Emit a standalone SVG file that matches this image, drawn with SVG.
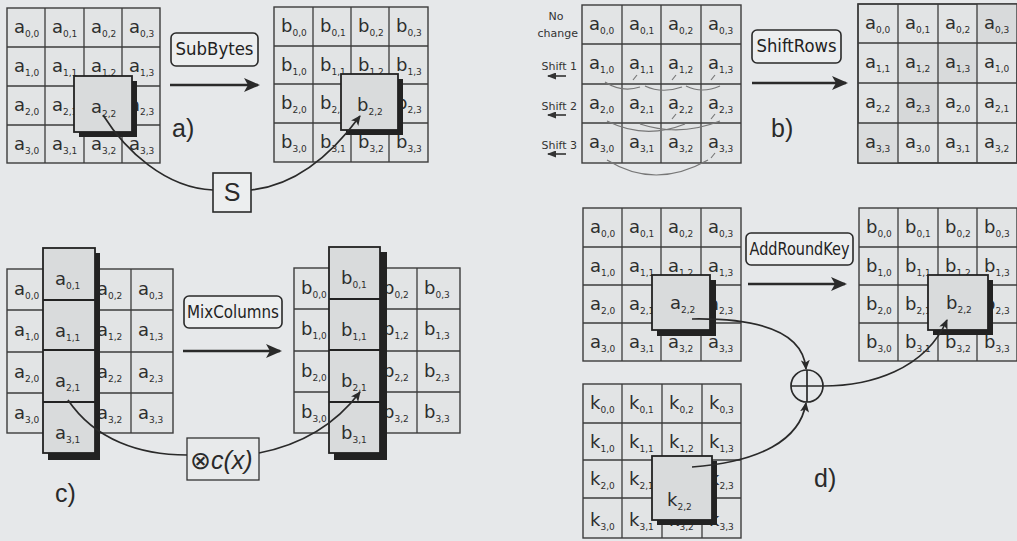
<svg xmlns="http://www.w3.org/2000/svg" width="1017" height="541" viewBox="0 0 1017 541">
<defs>
<style>
.bg{fill:#e6e8ea}
.grid{fill:#e2e4e5;stroke:#3c3c3c;stroke-width:1.4}
.gl{stroke:#3c3c3c;stroke-width:1.3;fill:none}
.hl{fill:#d9dbdc;stroke:#222;stroke-width:1.8}
.sh{fill:#222}
.c{font-family:"DejaVu Sans",Verdana,sans-serif;font-size:18px;fill:#2e2e2e}
.s{font-size:9px}
.lbl{font-family:"DejaVu Sans",Verdana,sans-serif;font-size:17px;fill:#222}
.box{fill:#eceeef;stroke:#2a2a2a;stroke-width:1.6}
.pl{font-family:"Liberation Sans",Arial,sans-serif;font-size:25px;fill:#2a2a2a}
.sm{font-family:"DejaVu Sans",Verdana,sans-serif;font-size:11px;fill:#333}
.ar{stroke:#2a2a2a;stroke-width:2.6;fill:none}
.cv{stroke:#2a2a2a;stroke-width:1.7;fill:none}
.fa{stroke:#777;stroke-width:1.2;fill:none}
.sa{stroke:#333;stroke-width:1.6;fill:none}
</style>
<marker id="big" markerWidth="16" markerHeight="14" refX="14" refY="7" orient="auto" markerUnits="userSpaceOnUse"><path d="M0,0 L16,7 L0,14 L4,7 z" fill="#2a2a2a"/></marker>
<marker id="sml" markerWidth="10" markerHeight="9" refX="9" refY="4.5" orient="auto" markerUnits="userSpaceOnUse"><path d="M0,0 L10,4.5 L0,9 L2.5,4.5 z" fill="#2a2a2a"/></marker>
<marker id="tiny" markerWidth="9" markerHeight="7" refX="8" refY="3.5" orient="auto" markerUnits="userSpaceOnUse"><path d="M0,0 L9,3.5 L0,7 z" fill="#333"/></marker>
</defs>
<rect class="bg" x="0" y="0" width="1017" height="541"/>

<!-- Panel a: SubBytes -->
<g id="a-state-in">
<rect class="grid" x="7" y="8" width="153" height="155"/>
<path class="gl" d="M45,8V163M84,8V163M122,8V163M7,47H160M7,86H160M7,125H160"/>
<text class="c" x="14" y="33">a<tspan class="s" dy="4">0,0</tspan></text>
<text class="c" x="52" y="33">a<tspan class="s" dy="4">0,1</tspan></text>
<text class="c" x="91" y="33">a<tspan class="s" dy="4">0,2</tspan></text>
<text class="c" x="129" y="33">a<tspan class="s" dy="4">0,3</tspan></text>
<text class="c" x="14" y="72">a<tspan class="s" dy="4">1,0</tspan></text>
<text class="c" x="52" y="72">a<tspan class="s" dy="4">1,1</tspan></text>
<text class="c" x="91" y="72">a<tspan class="s" dy="4">1,2</tspan></text>
<text class="c" x="129" y="72">a<tspan class="s" dy="4">1,3</tspan></text>
<text class="c" x="14" y="111">a<tspan class="s" dy="4">2,0</tspan></text>
<text class="c" x="52" y="111">a<tspan class="s" dy="4">2,1</tspan></text>
<text class="c" x="129" y="111">a<tspan class="s" dy="4">2,3</tspan></text>
<text class="c" x="14" y="150">a<tspan class="s" dy="4">3,0</tspan></text>
<text class="c" x="52" y="150">a<tspan class="s" dy="4">3,1</tspan></text>
<text class="c" x="91" y="150">a<tspan class="s" dy="4">3,2</tspan></text>
<text class="c" x="129" y="150">a<tspan class="s" dy="4">3,3</tspan></text>
<rect class="sh" x="79" y="81" width="58" height="56"/>
<rect class="hl" x="74" y="76" width="58" height="56"/>
<text class="c" x="91" y="113">a<tspan class="s" dy="4">2,2</tspan></text>
</g>
<g id="a-state-out">
<rect class="grid" x="274" y="7" width="154" height="155"/>
<path class="gl" d="M313,7V162M351,7V162M389,7V162M274,46H428M274,84H428M274,123H428"/>
<text class="c" x="281" y="32">b<tspan class="s" dy="4">0,0</tspan></text>
<text class="c" x="320" y="32">b<tspan class="s" dy="4">0,1</tspan></text>
<text class="c" x="358" y="32">b<tspan class="s" dy="4">0,2</tspan></text>
<text class="c" x="396" y="32">b<tspan class="s" dy="4">0,3</tspan></text>
<text class="c" x="281" y="71">b<tspan class="s" dy="4">1,0</tspan></text>
<text class="c" x="320" y="71">b<tspan class="s" dy="4">1,1</tspan></text>
<text class="c" x="358" y="71">b<tspan class="s" dy="4">1,2</tspan></text>
<text class="c" x="396" y="71">b<tspan class="s" dy="4">1,3</tspan></text>
<text class="c" x="281" y="109">b<tspan class="s" dy="4">2,0</tspan></text>
<text class="c" x="320" y="109">b<tspan class="s" dy="4">2,1</tspan></text>
<text class="c" x="396" y="109">b<tspan class="s" dy="4">2,3</tspan></text>
<text class="c" x="281" y="148">b<tspan class="s" dy="4">3,0</tspan></text>
<text class="c" x="320" y="148">b<tspan class="s" dy="4">3,1</tspan></text>
<text class="c" x="358" y="148">b<tspan class="s" dy="4">3,2</tspan></text>
<text class="c" x="396" y="148">b<tspan class="s" dy="4">3,3</tspan></text>
<rect class="sh" x="346" y="79" width="57" height="56"/>
<rect class="hl" x="341" y="74" width="57" height="56"/>
<text class="c" x="357" y="111">b<tspan class="s" dy="4">2,2</tspan></text>
</g>
<g id="subbytes-label">
<rect class="box" x="171" y="33" width="87" height="33" rx="5"/>
<text class="lbl" x="214.5" y="55" text-anchor="middle" textLength="78" lengthAdjust="spacingAndGlyphs">SubBytes</text>
</g>
<g id="s-box">
<rect class="box" x="213" y="173" width="38" height="39"/>
<text class="pl" x="232" y="201" text-anchor="middle" font-size="24">S</text>
</g>
<text id="label-a" class="pl" x="172" y="137">a)</text>

<!-- Panel b: ShiftRows -->
<g id="b-state-in">
<rect class="grid" x="582" y="5" width="159" height="158"/>
<path class="gl" d="M622,5V163M661,5V163M701,5V163M582,44H741M582,84H741M582,123H741"/>
<text class="c" x="589" y="30">a<tspan class="s" dy="4">0,0</tspan></text>
<text class="c" x="629" y="30">a<tspan class="s" dy="4">0,1</tspan></text>
<text class="c" x="668" y="30">a<tspan class="s" dy="4">0,2</tspan></text>
<text class="c" x="708" y="30">a<tspan class="s" dy="4">0,3</tspan></text>
<text class="c" x="589" y="69">a<tspan class="s" dy="4">1,0</tspan></text>
<text class="c" x="629" y="69">a<tspan class="s" dy="4">1,1</tspan></text>
<text class="c" x="668" y="69">a<tspan class="s" dy="4">1,2</tspan></text>
<text class="c" x="708" y="69">a<tspan class="s" dy="4">1,3</tspan></text>
<text class="c" x="589" y="109">a<tspan class="s" dy="4">2,0</tspan></text>
<text class="c" x="629" y="109">a<tspan class="s" dy="4">2,1</tspan></text>
<text class="c" x="668" y="109">a<tspan class="s" dy="4">2,2</tspan></text>
<text class="c" x="708" y="109">a<tspan class="s" dy="4">2,3</tspan></text>
<text class="c" x="589" y="148">a<tspan class="s" dy="4">3,0</tspan></text>
<text class="c" x="629" y="148">a<tspan class="s" dy="4">3,1</tspan></text>
<text class="c" x="668" y="148">a<tspan class="s" dy="4">3,2</tspan></text>
<text class="c" x="708" y="148">a<tspan class="s" dy="4">3,3</tspan></text>
</g>
<g id="shift-labels">
<text class="sm" x="556" y="20" text-anchor="middle">No</text>
<text class="sm" x="578" y="37" text-anchor="end">change</text>
<text class="sm" x="577" y="70" text-anchor="end">Shift 1</text>
<text class="sm" x="577" y="110" text-anchor="end">Shift 2</text>
<text class="sm" x="577" y="149" text-anchor="end">Shift 3</text>
<path class="sa" d="M566,76H548" marker-end="url(#tiny)"/>
<path class="sa" d="M566,115H548" marker-end="url(#tiny)"/>
<path class="sa" d="M566,154H548" marker-end="url(#tiny)"/>
</g>
<g id="shift-arcs">
<path class="fa" d="M605,82 Q622,93 640,87 M645,86 Q662,94 682,87 M686,86 Q702,94 720,86"/>
<path class="fa" d="M633,80 L637,75 M672,80 L676,75 M711,80 L715,75"/>
<path class="fa" d="M607,121 Q645,140 685,124 M640,124 Q680,137 720,121"/>
<path class="fa" d="M672,119 L676,114 M711,119 L715,114"/>
<path class="fa" d="M607,160 Q655,190 708,160"/>
<path class="fa" d="M711,158 L715,153"/>
</g>
<g id="b-state-out">
<rect class="grid" x="858" y="4" width="159" height="159"/>
<rect x="977" y="4" width="40" height="39" fill="#d8dadb"/>
<rect x="898" y="43" width="40" height="40" fill="#dcdedf"/>
<rect x="938" y="43" width="39" height="40" fill="#d8dadb"/>
<rect x="898" y="83" width="40" height="40" fill="#d6d8d9"/>
<rect x="858" y="123" width="40" height="40" fill="#dadcdd"/>
<path class="gl" d="M898,4V163M938,4V163M977,4V163M858,43H1017M858,83H1017M858,123H1017"/>
<rect x="858" y="4" width="159" height="159" fill="none" stroke="#3c3c3c" stroke-width="1.4"/>
<text class="c" x="865" y="29">a<tspan class="s" dy="4">0,0</tspan></text>
<text class="c" x="905" y="29">a<tspan class="s" dy="4">0,1</tspan></text>
<text class="c" x="945" y="29">a<tspan class="s" dy="4">0,2</tspan></text>
<text class="c" x="984" y="29">a<tspan class="s" dy="4">0,3</tspan></text>
<text class="c" x="865" y="68">a<tspan class="s" dy="4">1,1</tspan></text>
<text class="c" x="905" y="68">a<tspan class="s" dy="4">1,2</tspan></text>
<text class="c" x="945" y="68">a<tspan class="s" dy="4">1,3</tspan></text>
<text class="c" x="984" y="68">a<tspan class="s" dy="4">1,0</tspan></text>
<text class="c" x="865" y="108">a<tspan class="s" dy="4">2,2</tspan></text>
<text class="c" x="905" y="108">a<tspan class="s" dy="4">2,3</tspan></text>
<text class="c" x="945" y="108">a<tspan class="s" dy="4">2,0</tspan></text>
<text class="c" x="984" y="108">a<tspan class="s" dy="4">2,1</tspan></text>
<text class="c" x="865" y="148">a<tspan class="s" dy="4">3,3</tspan></text>
<text class="c" x="905" y="148">a<tspan class="s" dy="4">3,0</tspan></text>
<text class="c" x="945" y="148">a<tspan class="s" dy="4">3,1</tspan></text>
<text class="c" x="984" y="148">a<tspan class="s" dy="4">3,2</tspan></text>
</g>
<g id="shiftrows-label">
<rect class="box" x="752" y="30" width="89" height="33" rx="5"/>
<text class="lbl" x="796.5" y="52" text-anchor="middle" textLength="80" lengthAdjust="spacingAndGlyphs">ShiftRows</text>
</g>
<text id="label-b" class="pl" x="771" y="137">b)</text>

<!-- Panel c: MixColumns -->
<g id="c-state-in">
<rect class="grid" x="7" y="269" width="166" height="164"/>
<path class="gl" d="M49,269V433M90,269V433M131,269V433M7,310H173M7,352H173M7,393H173"/>
<text class="c" x="14" y="295">a<tspan class="s" dy="4">0,0</tspan></text>
<text class="c" x="97" y="295">a<tspan class="s" dy="4">0,2</tspan></text>
<text class="c" x="138" y="295">a<tspan class="s" dy="4">0,3</tspan></text>
<text class="c" x="14" y="336">a<tspan class="s" dy="4">1,0</tspan></text>
<text class="c" x="97" y="336">a<tspan class="s" dy="4">1,2</tspan></text>
<text class="c" x="138" y="336">a<tspan class="s" dy="4">1,3</tspan></text>
<text class="c" x="14" y="378">a<tspan class="s" dy="4">2,0</tspan></text>
<text class="c" x="97" y="378">a<tspan class="s" dy="4">2,2</tspan></text>
<text class="c" x="138" y="378">a<tspan class="s" dy="4">2,3</tspan></text>
<text class="c" x="14" y="419">a<tspan class="s" dy="4">3,0</tspan></text>
<text class="c" x="97" y="419">a<tspan class="s" dy="4">3,2</tspan></text>
<text class="c" x="138" y="419">a<tspan class="s" dy="4">3,3</tspan></text>
<rect class="sh" x="48" y="253" width="52" height="207"/>
<rect class="hl" x="43" y="248" width="52" height="205"/>
<path d="M43,300H95M43,350H95M43,402H95" stroke="#222" stroke-width="2.2"/>
<text class="c" x="55" y="285">a<tspan class="s" dy="4">0,1</tspan></text>
<text class="c" x="55" y="337">a<tspan class="s" dy="4">1,1</tspan></text>
<text class="c" x="55" y="387">a<tspan class="s" dy="4">2,1</tspan></text>
<text class="c" x="55" y="439">a<tspan class="s" dy="4">3,1</tspan></text>
</g>
<g id="c-state-out">
<rect class="grid" x="294" y="268" width="166" height="165"/>
<path class="gl" d="M335,268V433M376,268V433M417,268V433M294,309H460M294,351H460M294,392H460"/>
<text class="c" x="301" y="294">b<tspan class="s" dy="4">0,0</tspan></text>
<text class="c" x="383" y="294">b<tspan class="s" dy="4">0,2</tspan></text>
<text class="c" x="424" y="294">b<tspan class="s" dy="4">0,3</tspan></text>
<text class="c" x="301" y="335">b<tspan class="s" dy="4">1,0</tspan></text>
<text class="c" x="383" y="335">b<tspan class="s" dy="4">1,2</tspan></text>
<text class="c" x="424" y="335">b<tspan class="s" dy="4">1,3</tspan></text>
<text class="c" x="301" y="377">b<tspan class="s" dy="4">2,0</tspan></text>
<text class="c" x="383" y="377">b<tspan class="s" dy="4">2,2</tspan></text>
<text class="c" x="424" y="377">b<tspan class="s" dy="4">2,3</tspan></text>
<text class="c" x="301" y="418">b<tspan class="s" dy="4">3,0</tspan></text>
<text class="c" x="383" y="418">b<tspan class="s" dy="4">3,2</tspan></text>
<text class="c" x="424" y="418">b<tspan class="s" dy="4">3,3</tspan></text>
<rect class="sh" x="334" y="252" width="53" height="208"/>
<rect class="hl" x="329" y="247" width="51" height="206"/>
<path d="M329,299H380M329,350H380M329,402H380" stroke="#222" stroke-width="2.2"/>
<text class="c" x="341" y="284">b<tspan class="s" dy="4">0,1</tspan></text>
<text class="c" x="341" y="336">b<tspan class="s" dy="4">1,1</tspan></text>
<text class="c" x="341" y="387">b<tspan class="s" dy="4">2,1</tspan></text>
<text class="c" x="341" y="439">b<tspan class="s" dy="4">3,1</tspan></text>
</g>
<g id="mixcolumns-label">
<rect class="box" x="184" y="296" width="98" height="32" rx="5"/>
<text class="lbl" x="233" y="318" text-anchor="middle" textLength="92" lengthAdjust="spacingAndGlyphs">MixColumns</text>
</g>
<g id="cx-box">
<rect x="187" y="438" width="72" height="42" fill="#e8eaeb" stroke="#333" stroke-width="1.3"/>
<text class="pl" x="190" y="469" font-size="23">⊗<tspan font-style="italic">c(x)</tspan></text>
</g>
<text id="label-c" class="pl" x="55" y="502">c)</text>

<!-- Panel d: AddRoundKey -->
<g id="d-state-in">
<rect class="grid" x="583" y="208" width="158" height="153"/>
<path class="gl" d="M622,208V361M661,208V361M701,208V361M583,247H741M583,285H741M583,323H741"/>
<text class="c" x="590" y="233">a<tspan class="s" dy="4">0,0</tspan></text>
<text class="c" x="629" y="233">a<tspan class="s" dy="4">0,1</tspan></text>
<text class="c" x="668" y="233">a<tspan class="s" dy="4">0,2</tspan></text>
<text class="c" x="708" y="233">a<tspan class="s" dy="4">0,3</tspan></text>
<text class="c" x="590" y="272">a<tspan class="s" dy="4">1,0</tspan></text>
<text class="c" x="629" y="272">a<tspan class="s" dy="4">1,1</tspan></text>
<text class="c" x="668" y="272">a<tspan class="s" dy="4">1,2</tspan></text>
<text class="c" x="708" y="272">a<tspan class="s" dy="4">1,3</tspan></text>
<text class="c" x="590" y="310">a<tspan class="s" dy="4">2,0</tspan></text>
<text class="c" x="629" y="310">a<tspan class="s" dy="4">2,1</tspan></text>
<text class="c" x="708" y="310">a<tspan class="s" dy="4">2,3</tspan></text>
<text class="c" x="590" y="348">a<tspan class="s" dy="4">3,0</tspan></text>
<text class="c" x="629" y="348">a<tspan class="s" dy="4">3,1</tspan></text>
<text class="c" x="668" y="348">a<tspan class="s" dy="4">3,2</tspan></text>
<text class="c" x="708" y="348">a<tspan class="s" dy="4">3,3</tspan></text>
<rect class="sh" x="657" y="280" width="59" height="56"/>
<rect class="hl" x="652" y="275" width="58" height="55"/>
<text class="c" x="670" y="309">a<tspan class="s" dy="4">2,2</tspan></text>
</g>
<g id="d-state-out">
<rect class="grid" x="859" y="208" width="158" height="153"/>
<path class="gl" d="M898,208V361M938,208V361M977,208V361M859,247H1017M859,285H1017M859,323H1017"/>
<text class="c" x="866" y="233">b<tspan class="s" dy="4">0,0</tspan></text>
<text class="c" x="905" y="233">b<tspan class="s" dy="4">0,1</tspan></text>
<text class="c" x="945" y="233">b<tspan class="s" dy="4">0,2</tspan></text>
<text class="c" x="984" y="233">b<tspan class="s" dy="4">0,3</tspan></text>
<text class="c" x="866" y="272">b<tspan class="s" dy="4">1,0</tspan></text>
<text class="c" x="905" y="272">b<tspan class="s" dy="4">1,1</tspan></text>
<text class="c" x="945" y="272">b<tspan class="s" dy="4">1,2</tspan></text>
<text class="c" x="984" y="272">b<tspan class="s" dy="4">1,3</tspan></text>
<text class="c" x="866" y="310">b<tspan class="s" dy="4">2,0</tspan></text>
<text class="c" x="905" y="310">b<tspan class="s" dy="4">2,1</tspan></text>
<text class="c" x="984" y="310">b<tspan class="s" dy="4">2,3</tspan></text>
<text class="c" x="866" y="348">b<tspan class="s" dy="4">3,0</tspan></text>
<text class="c" x="905" y="348">b<tspan class="s" dy="4">3,1</tspan></text>
<text class="c" x="945" y="348">b<tspan class="s" dy="4">3,2</tspan></text>
<text class="c" x="984" y="348">b<tspan class="s" dy="4">3,3</tspan></text>
<rect class="sh" x="933" y="280" width="60" height="55"/>
<rect class="hl" x="928" y="275" width="60" height="55"/>
<text class="c" x="946" y="309">b<tspan class="s" dy="4">2,2</tspan></text>
</g>
<g id="d-key">
<rect class="grid" x="583" y="384" width="158" height="154"/>
<path class="gl" d="M622,384V538M662,384V538M702,384V538M583,423H741M583,460H741M583,498H741"/>
<text class="c" x="590" y="409">k<tspan class="s" dy="4">0,0</tspan></text>
<text class="c" x="629" y="409">k<tspan class="s" dy="4">0,1</tspan></text>
<text class="c" x="669" y="409">k<tspan class="s" dy="4">0,2</tspan></text>
<text class="c" x="709" y="409">k<tspan class="s" dy="4">0,3</tspan></text>
<text class="c" x="590" y="448">k<tspan class="s" dy="4">1,0</tspan></text>
<text class="c" x="629" y="448">k<tspan class="s" dy="4">1,1</tspan></text>
<text class="c" x="669" y="448">k<tspan class="s" dy="4">1,2</tspan></text>
<text class="c" x="709" y="448">k<tspan class="s" dy="4">1,3</tspan></text>
<text class="c" x="590" y="485">k<tspan class="s" dy="4">2,0</tspan></text>
<text class="c" x="629" y="485">k<tspan class="s" dy="4">2,1</tspan></text>
<text class="c" x="709" y="485">k<tspan class="s" dy="4">2,3</tspan></text>
<text class="c" x="590" y="526">k<tspan class="s" dy="4">3,0</tspan></text>
<text class="c" x="629" y="526">k<tspan class="s" dy="4">3,1</tspan></text>
<text class="c" x="669" y="526">k<tspan class="s" dy="4">3,2</tspan></text>
<text class="c" x="709" y="526">k<tspan class="s" dy="4">3,3</tspan></text>
<rect class="sh" x="657" y="461" width="60" height="64"/>
<rect class="hl" x="652" y="456" width="60" height="64"/>
<text class="c" x="667" y="506">k<tspan class="s" dy="4">2,2</tspan></text>
</g>
<g id="addroundkey-label">
<rect class="box" x="746" y="233" width="107" height="32" rx="5"/>
<text class="lbl" x="799.5" y="255" text-anchor="middle" textLength="100" lengthAdjust="spacingAndGlyphs">AddRoundKey</text>
</g>
<g id="xor">
<circle cx="807" cy="386" r="16" fill="none" stroke="#2a2a2a" stroke-width="1.7"/>
<path d="M791,386H823M807,370V402" stroke="#2a2a2a" stroke-width="1.7"/>
</g>
<text id="label-d" class="pl" x="814" y="487">d)</text>

<g id="connectors">
<path class="ar" d="M170,85H258" marker-end="url(#big)"/>
<path class="ar" d="M752,83H846" marker-end="url(#big)"/>
<path class="ar" d="M183,351H280" marker-end="url(#big)"/>
<path class="ar" d="M748,284H845" marker-end="url(#big)"/>
<path class="cv" d="M103,115 C125,150 165,188 213,190"/>
<path class="cv" d="M251,190 C300,185 335,150 360,116" marker-end="url(#sml)"/>
<path class="cv" d="M68,400 C95,440 140,455 187,455"/>
<path class="cv" d="M259,453 C300,445 335,425 360,392" marker-end="url(#sml)"/>
<path class="cv" d="M692,319 C755,318 803,330 806,369" marker-end="url(#sml)"/>
<path class="cv" d="M692,467 C760,462 800,440 806,403" marker-end="url(#sml)"/>
<path class="cv" d="M823,386 C870,386 925,370 947,320" marker-end="url(#sml)"/>
</g>
</svg>
